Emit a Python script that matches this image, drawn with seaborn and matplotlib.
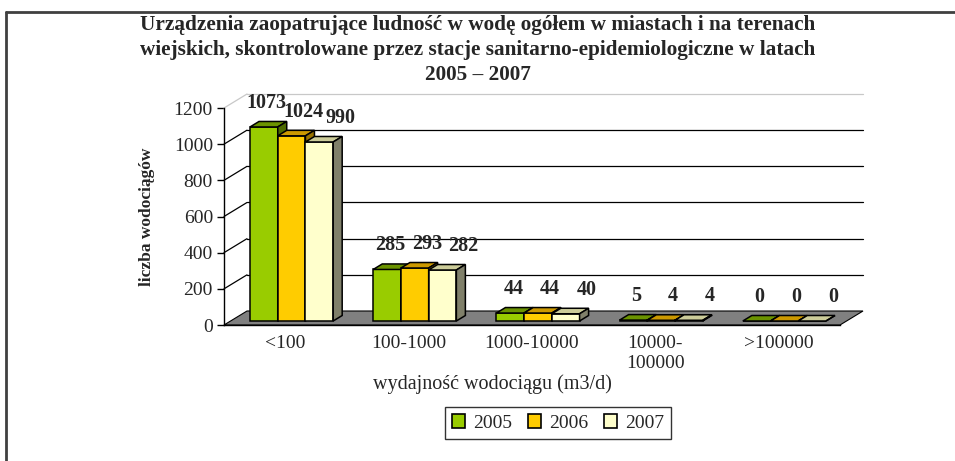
import numpy as np
import pandas as pd
import matplotlib
matplotlib.use("Agg")
import matplotlib.pyplot as plt
import matplotlib.transforms as mtransforms
from matplotlib.patches import Polygon, Patch
from matplotlib.lines import Line2D
import seaborn as sns

# data
categories = ["<100", "100-1000", "1000-10000", "10000-\n100000", ">100000"]
years = ["2005", "2006", "2007"]
v2005 = [1073, 285, 44, 5, 0]
v2006 = [1024, 293, 44, 4, 0]
v2007 = [990, 282, 40, 4, 0]
yticks = [0, 200, 400, 600, 800, 1000, 1200]

front_cols = ["#99CC00", "#FFCC00", "#FFFFCC"]
top_cols = ["#6B9300", "#CC9900", "#CCCC99"]
side_cols = ["#4D6A00", "#997300", "#80806A"]

df = pd.DataFrame({
    "kat": np.repeat(categories, 3),
    "rok": years * len(categories),
    "n": np.column_stack([v2005, v2006, v2007]).ravel(),
})

sns.set_style("white")
plt.rcParams["font.family"] = ["Liberation Serif", "DejaVu Serif"]

W, H = 955, 461
fig = plt.figure(figsize=(W / 100, H / 100), dpi=100)
ax = fig.add_axes([224 / W, (H - 325) / H, 616 / W, 217 / H])
ax.set_xlim(-0.5, 4.5)
ax.set_ylim(0, 1200)

# depth of the back wall and of the bars, in pixels (display coords, y up)
WDX, WDY = 23, 14
BDX, BDY = 9, 5.5
SHX, SHY = 6, 4


def shifted(x, y, dx, dy):
    d = ax.transData.transform([x, y])
    return ax.transData.inverted().transform([d[0] + dx, d[1] + dy])


# side wall diagonals and back wall gridlines
for t in yticks:
    col = "#C8C8C8" if t == 1200 else "black"
    p0 = (-0.5, t)
    p1 = shifted(-0.5, t, WDX, WDY)
    p2 = shifted(4.5, t, WDX, WDY)
    if t > 0:
        ax.add_line(Line2D([p0[0], p1[0]], [p0[1], p1[1]], color=col, lw=0.9, clip_on=False, zorder=1))
        ax.add_line(Line2D([p1[0], p2[0]], [p1[1], p2[1]], color=col, lw=0.9, clip_on=False, zorder=1))

# floor
floor = [(-0.5, 0), tuple(shifted(-0.5, 0, WDX, WDY)), tuple(shifted(4.5, 0, WDX, WDY)), (4.5, 0)]
ax.add_patch(Polygon(floor, closed=True, facecolor="#808080", edgecolor="black", lw=0.8,
                     clip_on=False, zorder=2))

sns.barplot(data=df, x="kat", y="n", hue="rok", palette=front_cols, width=0.675,
            edgecolor="black", linewidth=1.1, saturation=1, ax=ax, legend=False, zorder=3)
ax.set_xlim(-0.5, 4.5)
ax.set_ylim(0, 1200)

shift_tr = mtransforms.offset_copy(ax.transData, fig=fig, x=SHX, y=SHY, units="dots")
z = 3
for g in range(len(categories)):
    for h, cont in enumerate(ax.containers):
        bar = cont.patches[g]
        bar.set_transform(shift_tr)
        bar.set_clip_on(False)
        bar.set_zorder(z)
        x0 = bar.get_x()
        x1 = x0 + bar.get_width()
        yt = bar.get_height()
        a = shifted(x0, yt, SHX, SHY)
        b = shifted(x1, yt, SHX, SHY)
        c = shifted(x1, 0, SHX, SHY)
        top = [a, shifted(x0, yt, SHX + BDX, SHY + BDY), shifted(x1, yt, SHX + BDX, SHY + BDY), b]
        side = [c, shifted(x1, 0, SHX + BDX, SHY + BDY), shifted(x1, yt, SHX + BDX, SHY + BDY), b]
        ax.add_patch(Polygon(top, closed=True, facecolor=top_cols[h], edgecolor="black", lw=1.1,
                             clip_on=False, zorder=z + 0.1))
        ax.add_patch(Polygon(side, closed=True, facecolor=side_cols[h], edgecolor="black", lw=1.1,
                             clip_on=False, zorder=z + 0.2))
        z += 1
        lx, ly = shifted(x0 + bar.get_width() / 2, yt, 9 + 9 * h, 28)
        ax.text(lx, ly, f"{int(yt)}", ha="center", va="center", fontsize=14.5,
                fontweight="bold", clip_on=False, zorder=50)

# axes styling
for s in ["top", "right"]:
    ax.spines[s].set_visible(False)
for s in ["left", "bottom"]:
    ax.spines[s].set_color("black")
    ax.spines[s].set_linewidth(1.0)
    ax.spines[s].set_zorder(40)
ax.set_yticks(yticks)
ax.set_yticklabels([str(t) for t in yticks], fontsize=14)
ax.set_xticks(range(len(categories)))
ax.set_xticklabels(categories, fontsize=14, linespacing=1.25)
ax.set_xticks(np.arange(-0.5, 5, 1), minor=True)
ax.tick_params(axis="x", which="major", length=0, pad=7)
ax.tick_params(axis="x", which="minor", length=5, width=1, color="black", direction="out")
ax.tick_params(axis="y", length=5, width=1, color="black", direction="out", pad=3, left=True)
ax.set_xlabel("")
ax.set_ylabel("")
ax.grid(False)

fig.text(478 / W, 1 - 50 / H,
         "Urządzenia zaopatrujące ludność w wodę ogółem w miastach i na terenach\n"
         "wiejskich, skontrolowane przez stacje sanitarno-epidemiologiczne w latach\n"
         "2005 – 2007",
         ha="center", va="center", fontsize=15.3, fontweight="bold", linespacing=1.36)
fig.text(147 / W, 1 - 217 / H, "liczba wodociągów", rotation=90, ha="center", va="center",
         fontsize=12.5, fontweight="bold")
fig.text(492 / W, 1 - 384 / H, "wydajność wodociągu (m3/d)", ha="center", va="center", fontsize=14.5)

handles = [Patch(facecolor=c, edgecolor="black", lw=1.2) for c in front_cols]
fig.legend(handles, years, loc="center", bbox_to_anchor=(558 / W, 1 - 423 / H), ncol=3,
           frameon=True, fancybox=False, edgecolor="black", fontsize=14,
           handlelength=0.7, handleheight=0.7, handletextpad=0.4, columnspacing=0.8,
           borderpad=0.35)

# outer frame (only left and top visible in the reference)
fig.add_artist(Line2D([6 / W, 6 / W], [0, 1 - 12 / H], color="#404040", lw=2, transform=fig.transFigure))
fig.add_artist(Line2D([6 / W, 1], [1 - 12 / H, 1 - 12 / H], color="#404040", lw=2, transform=fig.transFigure))

fig.savefig("out.png", dpi=100)
